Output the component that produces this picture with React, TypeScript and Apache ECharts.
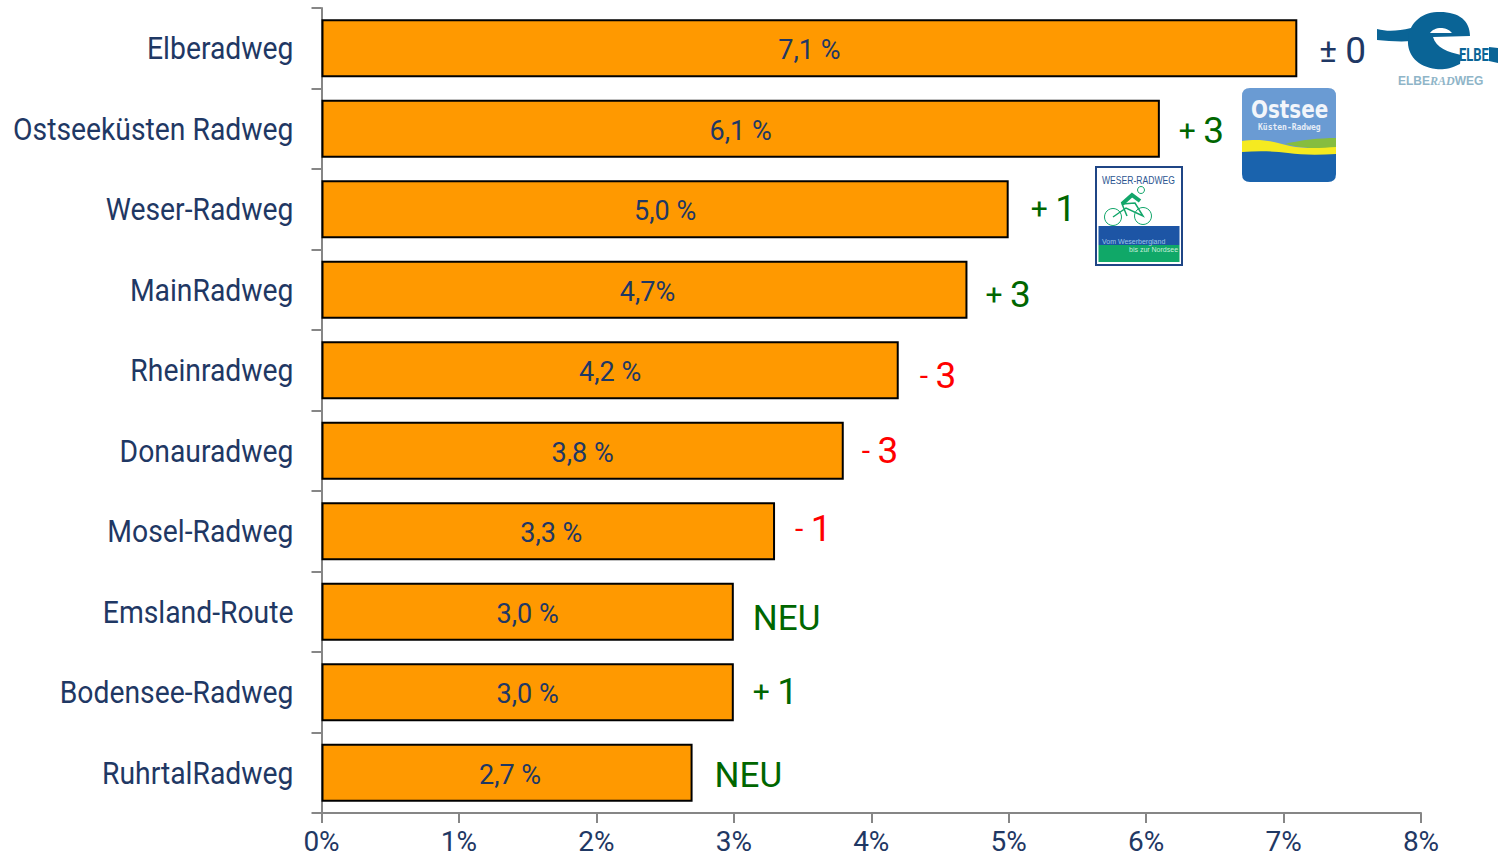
import React, { useEffect, useRef } from "react";
import * as echarts from "echarts";

const routes = ["Elberadweg", "Ostseeküsten Radweg", "Weser-Radweg", "MainRadweg", "Rheinradweg", "Donauradweg", "Mosel-Radweg", "Emsland-Route", "Bodensee-Radweg", "RuhrtalRadweg"];
const shares = [7.1, 6.1, 5.0, 4.7, 4.2, 3.8, 3.3, 3.0, 3.0, 2.7];
const shareLabels = ["7,1 %", "6,1 %", "5,0 %", "4,7%", "4,2 %", "3,8 %", "3,3 %", "3,0 %", "3,0 %", "2,7 %"];
const changes = ["± 0", "+ 3", "+ 1", "+ 3", "- 3", "- 3", "- 1", "NEU", "+ 1", "NEU"];
const changeColors = ["#1f3864", "#006600", "#006600", "#006600", "#ff0000", "#ff0000", "#ff0000", "#006600", "#006600", "#006600"];

const FONT = "Roboto, sans-serif";
const NAVY = "#1f3864";
const changeOffsets = [[22, 2], [19, 2], [22, -1], [18, 5], [21, 5], [18, 0], [20, -3], [19, 7], [19, -1], [22, 3]];
const shareOffsets = [[0, 2], [0, 2], [0, 2], [3, 2], [0, 2], [0, 2], [3, 2], [0, 2], [0, 2], [3, 2]];

echarts.graphic.registerShape("elbeSwoosh", echarts.graphic.extendPath(
  "M1377 29 C1388 32 1398 31 1411 28 L1412 41 C1400 42 1388 41 1377 40 Z", {}));
echarts.graphic.registerShape("elbeE", echarts.graphic.extendPath(
  "M1437 12 C1458 11 1470 20 1470 36 L1433 37 C1436 48 1448 52 1461 55 L1460 64 C1450 69 1442 70 1436 69 C1418 67 1407 55 1408 40 C1409 24 1420 13 1437 12 Z M1430 33 L1452 33 C1449 29 1444 28 1441 28 C1436 28 1432 30 1430 33 Z", {}));
echarts.graphic.registerShape("elbeTail", echarts.graphic.extendPath(
  "M1489 47 L1498 48 L1498 63 L1489 61 Z", {}));
echarts.graphic.registerShape("ostBody", echarts.graphic.extendPath(
  "M1242 150 L1336 150 L1336 174 Q1336 182 1328 182 L1250 182 Q1242 182 1242 174 Z", {}));
echarts.graphic.registerShape("ostTop", echarts.graphic.extendPath(
  "M1250 88 L1328 88 Q1336 88 1336 96 L1336 156 L1242 156 L1242 96 Q1242 88 1250 88 Z", {}));
echarts.graphic.registerShape("ostGreen", echarts.graphic.extendPath(
  "M1285 144 C1300 140 1320 138 1336 138 L1336 149 C1320 149 1300 148 1285 144 Z", {}));
echarts.graphic.registerShape("ostYellow", echarts.graphic.extendPath(
  "M1242 141 C1262 138 1275 142 1290 146 C1305 149 1322 148 1336 147 L1336 154 C1318 155 1302 155 1288 153 C1272 151 1258 151 1242 152 Z", {}));

const bikeGreen = "#12a66a";
const logos: any[] = [
  { type: "elbeSwoosh", style: { fill: "#0a6496" } },
  { type: "elbeE", style: { fill: "#0a6496" } },
  { type: "elbeTail", style: { fill: "#0a6496" } },
  { type: "text", x: 1459, y: 46, scaleX: 0.72, style: { text: "ELBE", fill: "#0a6496", font: "bold 18px Roboto" } },
  {
    type: "text", x: 1398, y: 75,
    style: {
      text: "{a|ELBE}{b|RAD}{a|WEG}", fill: "#8fb5c8",
      rich: {
        a: { fill: "#8fb5c8", font: "bold 12px 'Liberation Sans'" },
        b: { fill: "#8fb5c8", font: "italic bold 12px 'Liberation Serif'" },
      },
    },
  },

  { type: "ostTop", style: { fill: "#6a9bd3" } },
  { type: "ostBody", style: { fill: "#1a63ad" } },
  { type: "ostGreen", style: { fill: "#86bd3f" } },
  { type: "ostYellow", style: { fill: "#f5ea20" } },
  { type: "text", x: 1251, y: 98, scaleX: 0.83, style: { text: "Ostsee", fill: "#f2f5fa", font: "bold 24px 'DejaVu Sans'" } },
  { type: "text", x: 1258, y: 123, style: { text: "Küsten-Radweg", fill: "#e6edf7", font: "bold 8px 'DejaVu Sans Mono'" } },

  { type: "rect", shape: { x: 1096, y: 167, width: 86, height: 98 }, style: { fill: "#ffffff", stroke: "#1f4585", lineWidth: 2 } },
  { type: "rect", shape: { x: 1098.5, y: 226, width: 81, height: 19 }, style: { fill: "#1d55a5" } },
  { type: "rect", shape: { x: 1098.5, y: 245, width: 81, height: 17 }, style: { fill: "#10a868" } },
  { type: "text", x: 1102, y: 175, scaleX: 0.78, style: { text: "WESER-RADWEG", fill: "#2b5590", font: "11px 'Liberation Sans'" } },
  { type: "circle", shape: { cx: 1113, cy: 217, r: 8.5 }, style: { fill: "none", stroke: bikeGreen, lineWidth: 1 } },
  { type: "circle", shape: { cx: 1143, cy: 216, r: 8.5 }, style: { fill: "none", stroke: bikeGreen, lineWidth: 1 } },
  { type: "polyline", shape: { points: [[1113, 217], [1126, 208], [1143, 216], [1135, 203], [1122, 204], [1127, 216]] }, style: { fill: "none", stroke: bikeGreen, lineWidth: 1.5 } },
  { type: "polyline", shape: { points: [[1122, 204], [1132, 195], [1140, 201]] }, style: { fill: "none", stroke: bikeGreen, lineWidth: 4 } },
  { type: "circle", shape: { cx: 1141, cy: 190, r: 3.5 }, style: { fill: "none", stroke: bikeGreen, lineWidth: 1 } },
  { type: "text", x: 1102, y: 238, style: { text: "Vom Weserbergland", fill: "#9ec5e8", font: "7px 'Liberation Sans'" } },
  { type: "text", x: 1129, y: 246, style: { text: "bis zur Nordsee", fill: "#c8efdc", font: "7px 'Liberation Sans'" } },
];

const changeFormatter = (p: any) => {
  const c = changes[p.dataIndex];
  return c === "NEU" ? `{neu|NEU}` : `{small|${c.slice(0, 2)}}{big|${c.slice(2)}}`;
};

export default function App() {
  const ref = useRef<HTMLDivElement>(null);
  useEffect(() => {
    const chart = echarts.init(ref.current!, undefined, { renderer: "svg" });
    chart.setOption({
      animation: false,
      backgroundColor: "#ffffff",
      grid: { left: 321.5, top: 8, width: 1099.5, height: 805, containLabel: false, outerBoundsMode: "none" },
      xAxis: {
        type: "value", min: 0, max: 8, interval: 1,
        splitLine: { show: false },
        axisLine: { show: true, lineStyle: { color: "#868686", width: 2 } },
        axisTick: { show: true, length: 10, lineStyle: { color: "#868686", width: 2 } },
        axisLabel: { formatter: "{value}%", color: NAVY, fontFamily: FONT, fontSize: 28, margin: 14 },
      },
      yAxis: {
        type: "category", inverse: true, data: routes,
        axisLine: { show: true, lineStyle: { color: "#868686", width: 2 } },
        axisTick: { show: true, length: 10, alignWithLabel: false, lineStyle: { color: "#868686", width: 2 } },
        axisLabel: { show: false },
      },
      series: [
        {
          type: "bar", barWidth: 58, silent: true,
          itemStyle: { color: "#ff9900", borderColor: "#000000", borderWidth: 2 },
          data: shares.map((v, i) => ({
            value: v,
            label: {
              show: true, position: "inside", color: NAVY, fontFamily: FONT, fontSize: 27, offset: shareOffsets[i],
              formatter: () => shareLabels[i],
            },
          })),
        },
        {
          type: "bar", barWidth: 58, barGap: "-100%", silent: true,
          data: shares.map((v, i) => ({
            value: v,
            itemStyle: { color: "transparent", borderWidth: 0 },
            label: {
              show: true, position: "right", distance: 0, offset: changeOffsets[i],
              formatter: changeFormatter,
              rich: {
                small: { color: changeColors[i], fontFamily: FONT, fontSize: i === 0 ? 33 : 30 },
                big: { color: changeColors[i], fontFamily: FONT, fontSize: 37 },
                neu: { color: changeColors[i], fontFamily: FONT, fontSize: 35 },
              },
            },
          })),
        },
        {
          type: "custom", silent: true, clip: false,
          data: routes.map((_, i) => [0, i]),
          encode: { x: 0, y: 1 },
          renderItem: (params: any, api: any) => {
            const p = api.coord([0, params.dataIndex]);
            return {
              type: "text", x: p[0] - 28, y: p[1], scaleX: 0.885,
              style: {
                text: routes[params.dataIndex], fill: NAVY, font: `32px ${FONT}`,
                align: "right", verticalAlign: "middle",
              },
            };
          },
        },
      ],
      graphic: logos,
    });
    return () => chart.dispose();
  }, []);
  return <div ref={ref} style={{ position: "absolute", left: 0, top: 0, width: 1501, height: 863 }} />;
}
